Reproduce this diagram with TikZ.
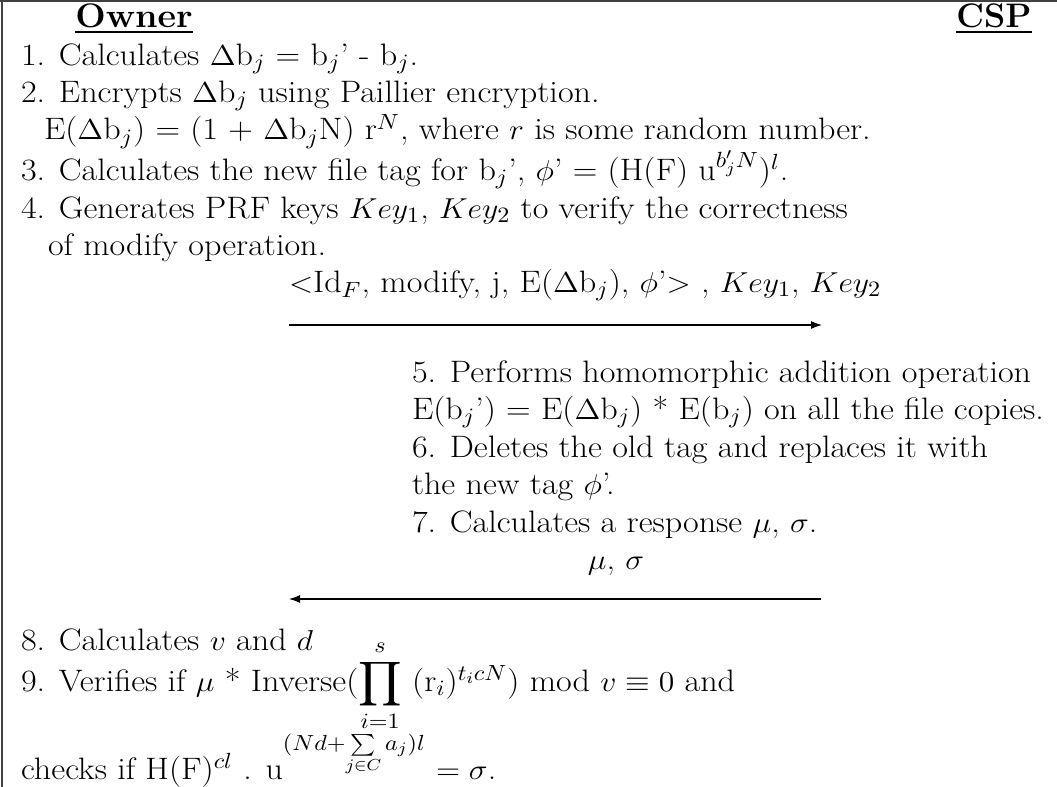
\documentclass[tikz,border=0pt]{standalone}
\usepackage{amsmath,amssymb,graphicx}
\usetikzlibrary{arrows.meta}
\newcommand{\wid}[1]{\scalebox{1.10}[1]{#1}}
\newcommand{\hwid}[1]{\scalebox{1.06}[1]{#1}}
\tikzset{
  txt/.style={anchor=base west, inner sep=0pt, outer sep=0pt, font=\fontsize{15.5pt}{18pt}\selectfont},
  hdr/.style={anchor=base, inner sep=0pt, outer sep=0pt, font=\fontsize{17pt}{20pt}\selectfont\bfseries},
  msg/.style={line width=0.55pt, -{Latex[length=5.5pt,width=4pt]}},
  frame/.style={line width=0.8pt, draw=black!75}
}
\begin{document}
\begin{tikzpicture}[x=0.5pt,y=-0.5pt]
\useasboundingbox (0,0) rectangle (1057,787);
\draw[frame] (0,1) -- (1057,1);
\draw[frame] (2,0) -- (2,787);
\node[hdr] (owner) at (134,27) {\hwid{\underline{Owner}}};
\node[hdr] (csp) at (994,27) {\underline{CSP}};
\node[txt] (l1) at (21,65) {\wid{1. Calculates $\Delta$b$_j$ = b$_j$' - b$_j$.}};
\node[txt] (l2) at (21,102) {\wid{2. Encrypts $\Delta$b$_j$ using Paillier encryption.}};
\node[txt] (l2b) at (44,140) {\wid{E($\Delta$b$_j$) = (1 + $\Delta$b$_j$N) r$^N$, where $r$ is some random number.}};
\node[txt] (l3) at (21,180) {\wid{3. Calculates the new file tag for b$_j$', $\phi$' = (H(F) u$^{b'_jN}$)$^l$.}};
\node[txt] (l4) at (21,218) {\wid{4. Generates PRF keys $Key_1$, $Key_2$ to verify the correctness}};
\node[txt] (l4b) at (48,255) {\wid{of modify operation.}};
\node[txt] (m1) at (289,292) {\wid{$<$Id$_F$, modify, j, E($\Delta$b$_j$), $\phi$'$>$ , $Key_1$, $Key_2$}};
\coordinate (a1s) at (289,325);
\coordinate (a1e) at (822,325);
\draw[msg] (a1s) -- (a1e);
\node[txt] (l5) at (412,382) {\wid{5. Performs homomorphic addition operation}};
\node[txt] (l5b) at (412,419) {\wid{E(b$_j$') = E($\Delta$b$_j$) * E(b$_j$) on all the file copies.}};
\node[txt] (l6) at (412,457) {\wid{6. Deletes the old tag and replaces it with}};
\node[txt] (l6b) at (412,494) {\wid{the new tag $\phi$'.}};
\node[txt] (l7) at (412,532) {\wid{7. Calculates a response $\mu$, $\sigma$.}};
\node[txt,anchor=base] (m2) at (616,569) {\wid{$\mu$, $\sigma$}};
\coordinate (a2s) at (821,599);
\coordinate (a2e) at (289,599);
\draw[msg] (a2s) -- (a2e);
\node[txt] (l8) at (21,650) {\wid{8. Calculates $v$ and $d$}};
\node[txt] (l9a) at (21,691) {\wid{9. Verifies if $\mu$ * Inverse(}};
\node[txt] (l9b) at (l9a.base east) {\wid{$\displaystyle\prod_{i=1}^{s}$}};
\node[txt] (l9c) at (l9b.base east) {\wid{~(r$_i$)$^{t_icN}$) mod $v \equiv 0$ and}};
\node[txt] (l10a) at (21,779) {\wid{checks if H(F)$^{cl}$ . u}};
\node[txt] (l10b) at (l10a.base east) {\wid{$^{(Nd+\sum\limits_{j\in C} a_j)l}$}};
\node[txt] (l10c) at (l10b.base east) {\wid{~$=\sigma$.}};
\end{tikzpicture}
\end{document}
